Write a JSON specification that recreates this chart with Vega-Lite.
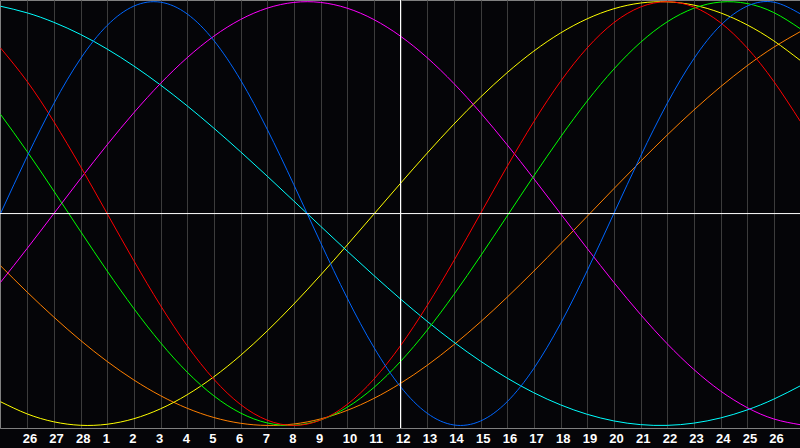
{
  "$schema": "https://vega.github.io/schema/vega-lite/v6.json",
  "width": 800,
  "height": 428,
  "autosize": {"type": "none"},
  "padding": {"left": 0, "top": 0, "right": 0, "bottom": 20},
  "background": "#050508",
  "datasets": {
    "today": [{"day": 15}],
    "zero": [{"v": 0}],
    "curves": [
      {"day": 0, "physical": 0, "emotional": 0.7818, "intellectual": 0.4684, "intuitive": -0.3247, "aesthetic": -0.888, "awareness": -0.2462, "spiritual": 0.9786},
      {"day": 1, "physical": 0.2698, "emotional": 0.6235, "intellectual": 0.2927, "intuitive": -0.1646, "aesthetic": -0.9455, "awareness": -0.3706, "spiritual": 0.9473},
      {"day": 2, "physical": 0.5196, "emotional": 0.4339, "intellectual": 0.1064, "intuitive": 0, "aesthetic": -0.9828, "awareness": -0.4886, "spiritual": 0.9027},
      {"day": 3, "physical": 0.7308, "emotional": 0.2225, "intellectual": -0.0837, "intuitive": 0.1646, "aesthetic": -0.9992, "awareness": -0.5983, "spiritual": 0.8456},
      {"day": 4, "physical": 0.8879, "emotional": 0, "intellectual": -0.2708, "intuitive": 0.3247, "aesthetic": -0.9943, "awareness": -0.6979, "spiritual": 0.7765},
      {"day": 5, "physical": 0.9791, "emotional": -0.2225, "intellectual": -0.4481, "intuitive": 0.4759, "aesthetic": -0.9682, "awareness": -0.7853, "spiritual": 0.6965},
      {"day": 6, "physical": 0.9977, "emotional": -0.4339, "intellectual": -0.6091, "intuitive": 0.6142, "aesthetic": -0.9215, "awareness": -0.8594, "spiritual": 0.6068},
      {"day": 7, "physical": 0.9423, "emotional": -0.6235, "intellectual": -0.7482, "intuitive": 0.7357, "aesthetic": -0.8551, "awareness": -0.9188, "spiritual": 0.5085},
      {"day": 8, "physical": 0.817, "emotional": -0.7818, "intellectual": -0.8603, "intuitive": 0.8372, "aesthetic": -0.7705, "awareness": -0.9625, "spiritual": 0.4031},
      {"day": 9, "physical": 0.6311, "emotional": -0.901, "intellectual": -0.9412, "intuitive": 0.9158, "aesthetic": -0.6696, "awareness": -0.9897, "spiritual": 0.292},
      {"day": 10, "physical": 0.3984, "emotional": -0.9749, "intellectual": -0.9881, "intuitive": 0.9694, "aesthetic": -0.5542, "awareness": -0.9999, "spiritual": 0.1769},
      {"day": 11, "physical": 0.1362, "emotional": -1, "intellectual": -0.9993, "intuitive": 0.9966, "aesthetic": -0.4271, "awareness": -0.9931, "spiritual": 0.0592},
      {"day": 12, "physical": -0.1362, "emotional": -0.9749, "intellectual": -0.9744, "intuitive": 0.9966, "aesthetic": -0.2909, "awareness": -0.9692, "spiritual": -0.0592},
      {"day": 13, "physical": -0.3984, "emotional": -0.901, "intellectual": -0.9143, "intuitive": 0.9694, "aesthetic": -0.1485, "awareness": -0.9288, "spiritual": -0.1769},
      {"day": 14, "physical": -0.6311, "emotional": -0.7818, "intellectual": -0.8211, "intuitive": 0.9158, "aesthetic": -0.0029, "awareness": -0.8725, "spiritual": -0.292},
      {"day": 15, "physical": -0.817, "emotional": -0.6235, "intellectual": -0.6982, "intuitive": 0.8372, "aesthetic": 0.1427, "awareness": -0.8013, "spiritual": -0.4031},
      {"day": 16, "physical": -0.9423, "emotional": -0.4339, "intellectual": -0.5503, "intuitive": 0.7357, "aesthetic": 0.2853, "awareness": -0.7163, "spiritual": -0.5085},
      {"day": 17, "physical": -0.9977, "emotional": -0.2225, "intellectual": -0.3822, "intuitive": 0.6142, "aesthetic": 0.4218, "awareness": -0.619, "spiritual": -0.6068},
      {"day": 18, "physical": -0.9791, "emotional": 0, "intellectual": -0.2004, "intuitive": 0.4759, "aesthetic": 0.5494, "awareness": -0.5113, "spiritual": -0.6965},
      {"day": 19, "physical": -0.8879, "emotional": 0.2225, "intellectual": -0.0114, "intuitive": 0.3247, "aesthetic": 0.6652, "awareness": -0.3947, "spiritual": -0.7765},
      {"day": 20, "physical": -0.7308, "emotional": 0.4339, "intellectual": 0.178, "intuitive": 0.1646, "aesthetic": 0.7669, "awareness": -0.2714, "spiritual": -0.8456},
      {"day": 21, "physical": -0.5196, "emotional": 0.6235, "intellectual": 0.361, "intuitive": 0, "aesthetic": 0.8522, "awareness": -0.1435, "spiritual": -0.9027},
      {"day": 22, "physical": -0.2698, "emotional": 0.7818, "intellectual": 0.531, "intuitive": -0.1646, "aesthetic": 0.9192, "awareness": -0.0131, "spiritual": -0.9473},
      {"day": 23, "physical": 0, "emotional": 0.901, "intellectual": 0.6817, "intuitive": -0.3247, "aesthetic": 0.9667, "awareness": 0.1175, "spiritual": -0.9786},
      {"day": 24, "physical": 0.2698, "emotional": 0.9749, "intellectual": 0.8078, "intuitive": -0.4759, "aesthetic": 0.9937, "awareness": 0.2462, "spiritual": -0.9961},
      {"day": 25, "physical": 0.5196, "emotional": 1, "intellectual": 0.9048, "intuitive": -0.6142, "aesthetic": 0.9994, "awareness": 0.3706, "spiritual": -0.9996},
      {"day": 26, "physical": 0.7308, "emotional": 0.9749, "intellectual": 0.969, "intuitive": -0.7357, "aesthetic": 0.9839, "awareness": 0.4886, "spiritual": -0.989},
      {"day": 27, "physical": 0.8879, "emotional": 0.901, "intellectual": 0.9983, "intuitive": -0.8372, "aesthetic": 0.9474, "awareness": 0.5983, "spiritual": -0.9646},
      {"day": 28, "physical": 0.9791, "emotional": 0.7818, "intellectual": 0.9914, "intuitive": -0.9158, "aesthetic": 0.8906, "awareness": 0.6979, "spiritual": -0.9267},
      {"day": 29, "physical": 0.9977, "emotional": 0.6235, "intellectual": 0.9487, "intuitive": -0.9694, "aesthetic": 0.8151, "awareness": 0.7853, "spiritual": -0.8757},
      {"day": 30, "physical": 0.9423, "emotional": 0.4339, "intellectual": 0.8717, "intuitive": -0.9966, "aesthetic": 0.7221, "awareness": 0.8594, "spiritual": -0.8125}
    ]
  },
  "layer": [
    {
      "data": {"name": "curves"},
      "transform": [
        {"fold": ["awareness", "aesthetic", "spiritual", "intuitive", "intellectual", "emotional", "physical"], "as": ["cycle", "v"]}
      ],
      "mark": {"type": "line", "strokeWidth": 1, "interpolate": "natural"},
      "encoding": {
        "x": {
          "field": "day",
          "type": "quantitative",
          "scale": {"domain": [-0.01875, 29.98125], "nice": false, "zero": false},
          "axis": {
            "values": [1, 2, 3, 4, 5, 6, 7, 8, 9, 10, 11, 12, 13, 14, 15, 16, 17, 18, 19, 20, 21, 22, 23, 24, 25, 26, 27, 28, 29],
            "labelExpr": "datum.value <= 3 ? datum.value + 25 : datum.value - 3"
          }
        },
        "y": {"field": "v", "type": "quantitative", "scale": {"domain": [-1.012, 1.008], "nice": false, "zero": false}, "axis": null},
        "color": {
          "field": "cycle",
          "type": "nominal",
          "scale": {
            "domain": ["physical", "emotional", "intellectual", "intuitive", "aesthetic", "awareness", "spiritual"],
            "range": ["#0066ff", "#ff0000", "#00ff00", "#ff00ff", "#ffff00", "#ff8000", "#00ffff"]
          },
          "legend": null
        }
      }
    },
    {
      "data": {"name": "today"},
      "mark": {"type": "rule", "color": "#ffffff", "strokeWidth": 1},
      "encoding": {
        "x": {
          "field": "day",
          "type": "quantitative",
          "axis": {
            "values": [1, 2, 3, 4, 5, 6, 7, 8, 9, 10, 11, 12, 13, 14, 15, 16, 17, 18, 19, 20, 21, 22, 23, 24, 25, 26, 27, 28, 29],
            "labelExpr": "datum.value <= 3 ? datum.value + 25 : datum.value - 3"
          }
        }
      }
    },
    {
      "data": {"name": "zero"},
      "mark": {"type": "rule", "color": "#ffffff", "strokeWidth": 1},
      "encoding": {
        "y": {"field": "v", "type": "quantitative"}
      }
    }
  ],
  "config": {
    "view": {"stroke": "#808080", "strokeWidth": 1},
    "axisX": {
      "title": null,
      "grid": true,
      "gridColor": "#3c3c3c",
      "gridWidth": 1,
      "ticks": false,
      "domain": true,
      "domainColor": "#808080",
      "domainWidth": 1,
      "labelColor": "#ffffff",
      "labelFont": "Liberation Sans",
      "labelFontWeight": "bold",
      "labelFontSize": 13,
      "labelPadding": 4,
      "labelAlign": "left",
      "labelOffset": -5,
      "labelOverlap": false,
      "labelBound": false,
      "labelFlush": false
    }
  }
}
